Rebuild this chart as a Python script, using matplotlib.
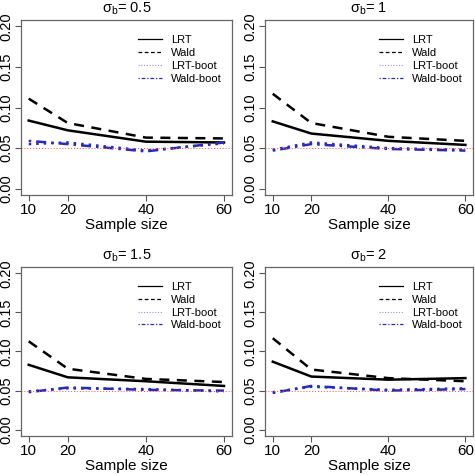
import matplotlib
matplotlib.use("Agg")
import matplotlib.pyplot as plt

plt.rcParams['font.family'] = ['Liberation Sans', 'DejaVu Sans']

sample_sizes = [10, 20, 40, 60]
sigma_labels = ["0.5", "1", "1.5", "2"]
series_names = ["LRT", "Wald", "LRT-boot", "Wald-boot"]

lrt = [[0.084, 0.072, 0.058, 0.057],
       [0.083, 0.068, 0.059, 0.054],
       [0.083, 0.067, 0.062, 0.056],
       [0.087, 0.068, 0.064, 0.066]]
wald = [[0.111, 0.081, 0.063, 0.062],
        [0.117, 0.081, 0.064, 0.059],
        [0.113, 0.078, 0.065, 0.061],
        [0.117, 0.077, 0.066, 0.062]]
lrt_boot = [[0.055, 0.057, 0.047, 0.056],
            [0.048, 0.057, 0.050, 0.048],
            [0.049, 0.053, 0.052, 0.049],
            [0.048, 0.055, 0.051, 0.053]]
wald_boot = [[0.059, 0.055, 0.046, 0.057],
             [0.047, 0.055, 0.049, 0.047],
             [0.048, 0.054, 0.051, 0.050],
             [0.047, 0.056, 0.050, 0.052]]
nominal = 0.05
yticks = [0.00, 0.05, 0.10, 0.15, 0.20]
ytick_labels = ["0.00", "0.05", "0.10", "0.15", "0.20"]
xticks = [10, 20, 40, 60]

blue = '#2a2ab8'
fig = plt.figure(figsize=(4.75, 4.75), dpi=100)
positions = [[0.044, 0.589, 0.444, 0.369],
             [0.558, 0.589, 0.438, 0.369],
             [0.044, 0.082, 0.444, 0.356],
             [0.558, 0.082, 0.438, 0.356]]

for i in range(4):
    ax = fig.add_axes(positions[i])
    ax.plot(sample_sizes, lrt[i], color='black', lw=1.8, ls='-')
    ax.plot(sample_sizes, wald[i], color='black', lw=1.8, dashes=(4, 3))
    ax.plot(sample_sizes, lrt_boot[i], color=blue, lw=1.8, ls=(0, (1, 2)))
    ax.plot(sample_sizes, wald_boot[i], color=blue, lw=1.8, ls=(0, (1, 2, 4, 2)))
    ax.axhline(nominal, color='#ff5050', lw=0.7, ls=(0, (1, 2)))
    ax.set_xlim(8, 62)
    ax.set_ylim(-0.008, 0.208)
    ax.set_xticks(xticks)
    ax.set_xticklabels([str(x) for x in xticks], fontsize=11)
    ax.set_yticks(yticks)
    ax.set_yticklabels(ytick_labels, fontsize=10.5, rotation=90, va='center')
    ax.tick_params(direction='out', length=4, width=0.8, color='#555555', pad=1.5)
    for s in ax.spines.values():
        s.set_color('#666666')
        s.set_linewidth(0.9)
    ax.set_xlabel("Sample size", fontsize=11, labelpad=1)
    ax.set_title(r"$\mathregular{\sigma_b}$= " + sigma_labels[i], fontsize=10.5, pad=5)
    h = [plt.Line2D([], [], color='black', lw=0.9, ls='-'),
         plt.Line2D([], [], color='black', lw=0.9, dashes=(3, 2)),
         plt.Line2D([], [], color=blue, lw=0.8, ls=(0, (1, 1.5)), alpha=0.5),
         plt.Line2D([], [], color=blue, lw=0.9, ls=(0, (1, 1.5, 3, 1.5)))]
    ax.legend(h, series_names, frameon=False, loc='upper right', fontsize=8,
              handlelength=2.2, handletextpad=0.8, labelspacing=0.25,
              borderaxespad=0.5, bbox_to_anchor=(1.0, 0.97))

fig.savefig("out.png", dpi=100)
